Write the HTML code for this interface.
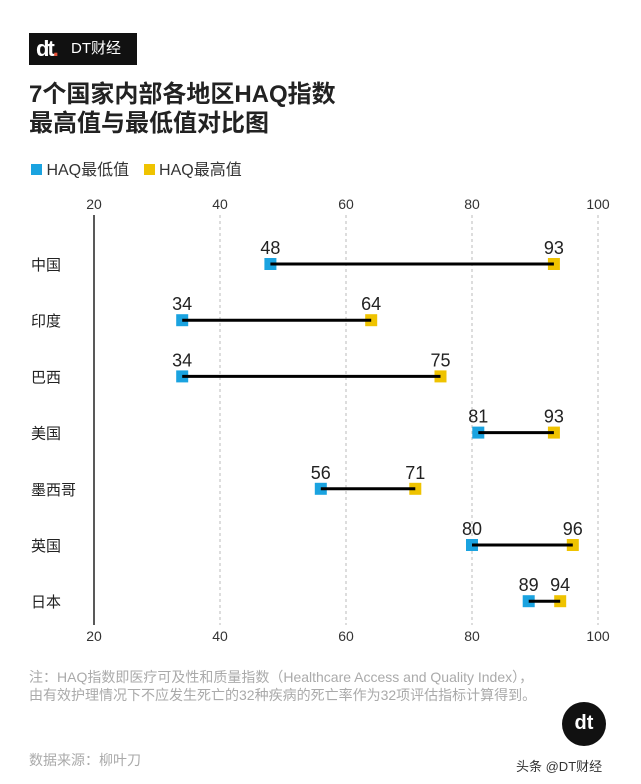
<!DOCTYPE html>
<html><head><meta charset="utf-8">
<style>
body{margin:0;width:641px;height:784px;background:#fff;font-family:"Liberation Sans","Noto Sans CJK SC",sans-serif;overflow:hidden;position:relative}
.abs{position:absolute}
</style></head><body>
<div class="abs" style="left:29px;top:33px;width:108px;height:32px;background:#111;color:#fff;font-size:15px;line-height:32px">
<span style="position:absolute;left:7px;top:0;font-weight:bold;font-size:22px;letter-spacing:-2px">dt<span style="color:#e8533a">.</span></span>
<span style="position:absolute;left:42px;top:0">DT财经</span></div>
<div class="abs" style="left:29px;top:80px;font-size:24px;font-weight:bold;line-height:29px;color:#222">7个国家内部各地区HAQ指数<br>最高值与最低值对比图</div>
<div class="abs" style="left:31px;top:156px;font-size:16px;color:#333">
<span><span style="display:inline-block;width:11px;height:11px;background:#1aa3e0"></span> HAQ最低值</span>
<span style="margin-left:10px"><span style="display:inline-block;width:11px;height:11px;background:#efc300"></span> HAQ最高值</span></div>
<svg id="chart" class="abs" style="left:0;top:0" width="641" height="784"></svg>
<div class="abs" style="left:29px;top:668px;font-size:14px;line-height:18px;color:#aaa;width:508px">注：HAQ指数即医疗可及性和质量指数（Healthcare Access and Quality Index），由有效护理情况下不应发生死亡的32种疾病的死亡率作为32项评估指标计算得到。</div>
<div class="abs" style="left:29px;top:750px;font-size:14px;color:#aaa">数据来源：柳叶刀</div>
<div class="abs" style="left:562px;top:702px;width:44px;height:44px;border-radius:50%;background:#111;color:#fff;font-weight:bold;font-size:20px;text-align:center;line-height:42px">dt</div>
<div class="abs" style="left:516px;top:756px;font-size:13px;color:#333">头条 @DT财经</div>
<script>
const countries=["中国","印度","巴西","美国","墨西哥","英国","日本"];
const minVals=[48,34,34,81,56,80,89];
const maxVals=[93,64,75,93,71,96,94];
const ticks=[20,40,60,80,100];
const NS="http://www.w3.org/2000/svg";
const svg=document.getElementById("chart");
const x=v=>(v-60)*6.3+346;
const y=i=>264+i*56.2;
function mk(t,a){const e=document.createElementNS(NS,t);for(const k in a)e.setAttribute(k,a[k]);svg.appendChild(e);return e;}
ticks.forEach(t=>{
 const g=mk("line",{x1:x(t),x2:x(t),y1:215,y2:625,stroke:t===20?"#222":"#bbb","stroke-width":t===20?1.5:1,"stroke-dasharray":t===20?"":"3,3"});
 
 
 [204,636].forEach((yy,j)=>{const l=mk("text",{x:x(t),y:yy+5,"text-anchor":"middle","font-size":14,fill:"#333"});l.textContent=t;
 
 });
});
countries.forEach((c,i)=>{
 const cy=y(i);
 const lab=mk("text",{x:31,y:cy+6,"font-size":15,fill:"#222"});lab.textContent=c;
 
 
 [[minVals[i],"#1aa3e0","min"],[maxVals[i],"#efc300","max"]].forEach(([v,col,k])=>{
  const r=mk("rect",{x:x(v)-6,y:cy-6,width:12,height:12,fill:col});
  
  
  const t=mk("text",{x:x(v),y:cy-10,"text-anchor":"middle","font-size":18,fill:"#222"});t.textContent=v;
  
  
 });
 const ln=mk("line",{x1:x(minVals[i]),x2:x(maxVals[i]),y1:cy,y2:cy,stroke:"#000","stroke-width":3});
 
 
});
</script>
</body></html>
